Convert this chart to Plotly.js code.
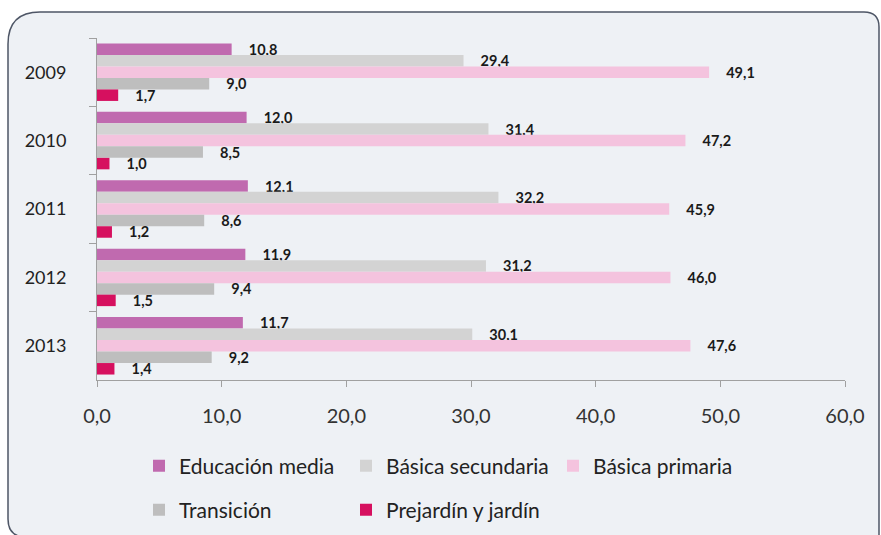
<!DOCTYPE html>
<html>
<head>
<meta charset="utf-8">
<script src="https://cdn.plot.ly/plotly-3.0.1.min.js"></script>
<style>html,body{margin:0;padding:0;background:#fff;}#chart{width:881px;height:535px;}</style>
</head>
<body>
<div id="chart"></div>
<script>
// ---- data ----
const years = ['2009', '2010', '2011', '2012', '2013'];
const seriesNames = ['Educación media', 'Básica secundaria', 'Básica primaria', 'Transición', 'Prejardín y jardín'];
const educacionMedia   = [10.8, 12.0, 12.1, 11.9, 11.7];
const basicaSecundaria = [29.4, 31.4, 32.2, 31.2, 30.1];
const basicaPrimaria   = [49.1, 47.2, 45.9, 46.0, 47.6];
const transicion       = [9.0, 8.5, 8.6, 9.4, 9.2];
const prejardin        = [1.7, 1.0, 1.2, 1.5, 1.4];
const xTickValues = [0, 10, 20, 30, 40, 50, 60];

// ---- styles ----
const colors = ['#C06AAF', '#D3D3D3', '#F4C3DE', '#BEBEBE', '#D6105F'];
const legendOf = ['legend', 'legend', 'legend', 'legend2', 'legend2'];
const allSeries = [educacionMedia, basicaSecundaria, basicaPrimaria, transicion, prejardin];
const FONT = 'Lato, "Open Sans", sans-serif';
const pad = '\u00a0\u00a0\u00a0\u00a0';

const traces = allSeries.map((vals, i) => ({
  type: 'bar',
  orientation: 'h',
  name: seriesNames[i],
  x: vals,
  y: years,
  marker: {color: colors[i]},
  texttemplate: pad + '%{x:.1f}',
  textposition: 'outside',
  cliponaxis: false,
  constraintext: 'none',
  textfont: {family: FONT, size: 14.5, color: '#1a1a1a', weight: 'bold'},
  legend: legendOf[i],
  hoverinfo: 'x+name'
}));

// plot-area pixel geometry helpers for the frame shape
const W = 881, H = 535;
const L = 97, R = 845, T = 38, B = 380;
const X = px => (px - L) / (R - L);
const Y = py => (B - py) / (B - T);
function P(px, py) { return X(px).toFixed(5) + ',' + Y(py).toFixed(5); }
const frame = 'M' + P(880, 537) + ' L' + P(26, 537) + ' Q' + P(8, 537) + ' ' + P(8, 519) +
  ' L' + P(8, 44) + ' Q' + P(8, 12) + ' ' + P(40, 12) +
  ' L' + P(864, 12) + ' Q' + P(879, 12) + ' ' + P(879, 27) + ' L' + P(879, 537) + ' Z';

const legendCommon = {
  orientation: 'h', xanchor: 'left', yanchor: 'middle',
  xref: 'container', yref: 'container',
  bgcolor: 'rgba(0,0,0,0)', entrywidth: 162, entrywidthmode: 'pixels',
  font: {family: FONT, size: 21, color: '#222'}, traceorder: 'normal'
};

const layout = {
  width: W, height: H,
  margin: {l: L, r: W - R, t: T, b: H - B, pad: 0, autoexpand: false},
  paper_bgcolor: '#ffffff',
  plot_bgcolor: 'rgba(0,0,0,0)',
  barmode: 'group',
  bargap: 0.16,
  bargroupgap: 0,
  separators: ',.',
  font: {family: FONT, color: '#222'},
  xaxis: {
    range: [0, 60], tickvals: xTickValues, tickformat: '.1f',
    ticks: 'outside', ticklen: 6, tickcolor: '#A0A0A0',
    showline: true, linecolor: '#A0A0A0', linewidth: 1,
    showgrid: false, zeroline: false,
    tickfont: {family: FONT, size: 20, color: '#333'},
    ticklabelstandoff: 12
  },
  yaxis: {
    type: 'category', categoryorder: 'array', categoryarray: years,
    autorange: 'reversed',
    tickson: 'boundaries', ticks: 'outside', ticklen: 7, tickcolor: '#A0A0A0',
    showline: true, linecolor: '#A0A0A0', linewidth: 1,
    showgrid: false, zeroline: false,
    tickfont: {family: FONT, size: 18, color: '#222'},
    ticklabelstandoff: 26
  },
  legend: Object.assign({}, legendCommon, {x: 139 / W, y: 1 - 466 / H}),
  legend2: Object.assign({}, legendCommon, {x: 139 / W, y: 1 - 510 / H}),
  shapes: [
    {type: 'path', xref: 'paper', yref: 'paper', layer: 'below', path: frame,
     fillcolor: '#EEF1F5', line: {color: '#4E5666', width: 1.5}}
  ]
};

Plotly.newPlot('chart', traces, layout, {displayModeBar: false, staticPlot: true});
</script>
</body>
</html>
